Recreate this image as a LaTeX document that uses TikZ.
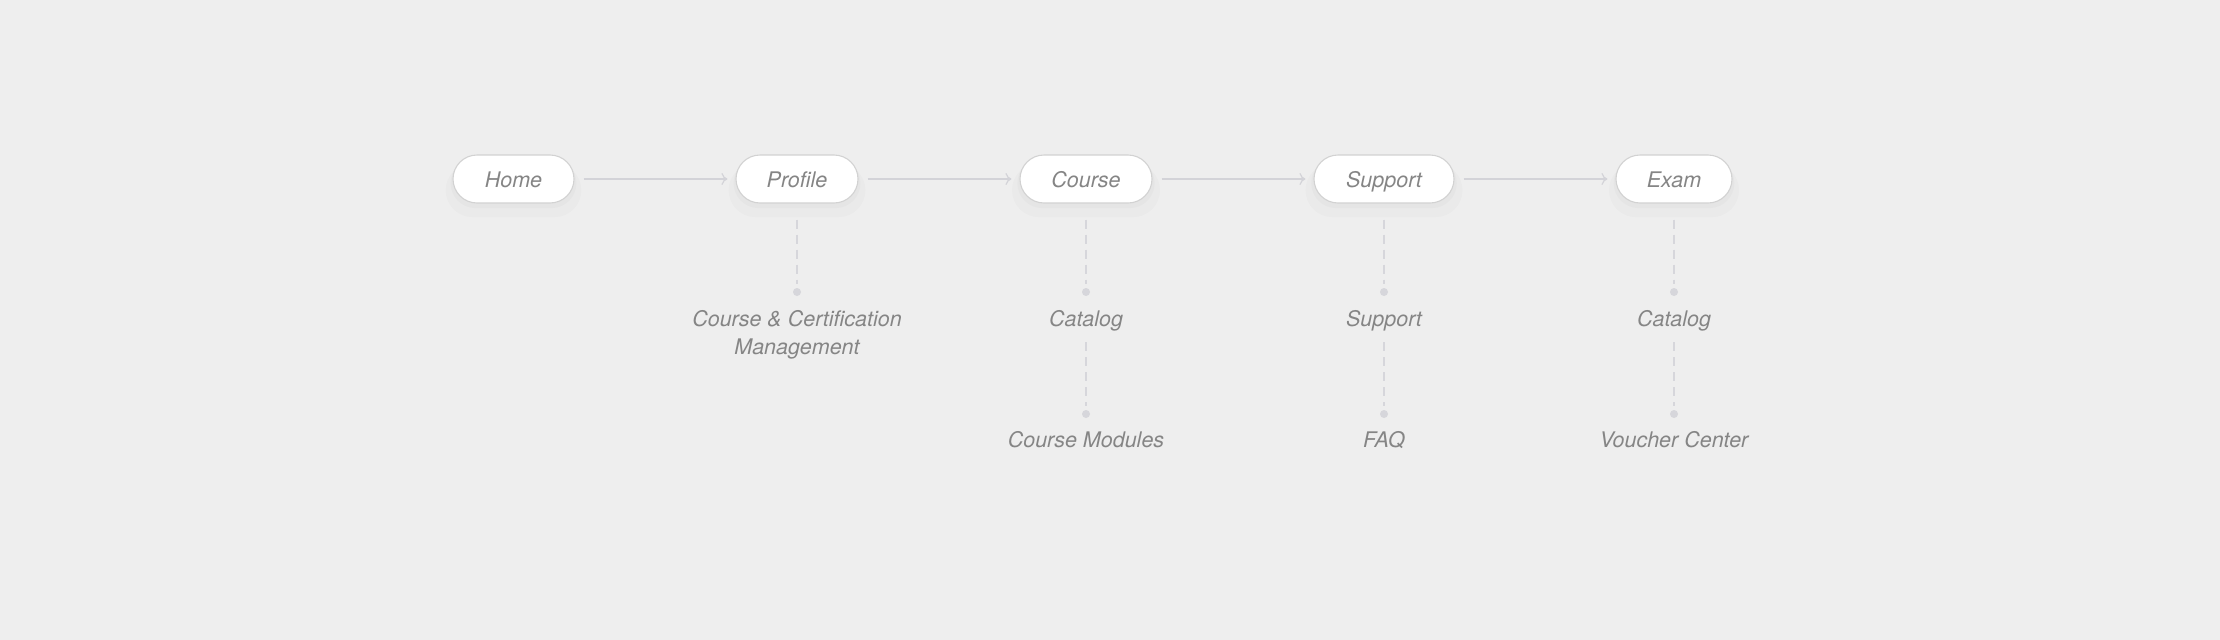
\documentclass[tikz,border=0pt]{standalone}
\usepackage{fontspec}
\setmainfont{TeX Gyre Heros}
\usetikzlibrary{arrows.meta,positioning,shadows}
\definecolor{page bg}{HTML}{EEEEEE}
\definecolor{pill border}{HTML}{D2D2D2}
\definecolor{label gray}{HTML}{858585}
\definecolor{flow gray}{HTML}{D3D3D8}
\definecolor{dash gray}{HTML}{D6D6DB}
\tikzset{
    pill/.style={draw=pill border,fill=white,line width=1.1pt,rounded corners=24pt,
        minimum height=48pt,inner xsep=0pt,text=label gray,
        text height=22pt,text depth=6pt,
        font=\fontsize{21.5}{26}\selectfont\itshape,
        drop shadow={opacity=.035,shadow xshift=0pt,shadow yshift=-10pt,shadow scale=1.12},
        drop shadow={opacity=.04,shadow xshift=0pt,shadow yshift=-4pt,shadow scale=1.04}},
    flow arr/.style={-{To[length=6pt,width=12pt]},draw=flow gray,line width=1.2pt,
        shorten <=9pt,shorten >=8pt},
    sub line/.style={draw=dash gray,line width=1.6pt,dash pattern=on 9pt off 6pt},
    sub dot/.style={circle,fill=dash gray,inner sep=0pt,minimum size=8pt},
    sub label/.style={anchor=north,inner sep=0pt,text=label gray,align=center,
        font=\fontsize{21.5}{28}\selectfont\itshape},
}

\begin{document}
\begin{tikzpicture}[x=1pt,y=-1pt]
    \fill[page bg] (0,0) rectangle (2220,640);
    \useasboundingbox (0,0) rectangle (2220,640);

    % main flow
    \node[pill,minimum width=121pt] (home)    at (513.5,179) {Home};
    \node[pill,minimum width=122pt] (profile) at (797,179)   {Profile};
    \node[pill,minimum width=132pt] (course)  at (1086,179)  {Course};
    \node[pill,minimum width=140pt] (support) at (1384,179)  {Support};
    \node[pill,minimum width=116pt] (exam)    at (1674,179)  {Exam};

    \draw[flow arr] (home) -- (profile);
    \draw[flow arr] (profile) -- (course);
    \draw[flow arr] (course) -- (support);
    \draw[flow arr] (support) -- (exam);

    % first level
    \node[sub dot] (profile dot) at (797,292) {};
    \node[sub dot] (course dot)  at (1086,292) {};
    \node[sub dot] (support dot) at (1384,292) {};
    \node[sub dot] (exam dot)    at (1674,292) {};
    \node[sub label] (profile sub) at (797,310)  {Course \& Certification\\Management};
    \node[sub label] (course sub)  at (1086,310) {Catalog};
    \node[sub label] (support sub) at (1384,310) {Support};
    \node[sub label] (exam sub)    at (1674,310) {Catalog};
    \foreach \n in {profile,course,support,exam}
        \draw[sub line,shorten <=16pt,shorten >=4pt] (\n) -- (\n\space dot);

    % second level
    \node[sub dot] (course dot2)  at (1086,414) {};
    \node[sub dot] (support dot2) at (1384,414) {};
    \node[sub dot] (exam dot2)    at (1674,414) {};
    \node[sub label] (course sub2)  at (1086,431) {Course Modules};
    \node[sub label] (support sub2) at (1384,431) {FAQ};
    \node[sub label] (exam sub2)    at (1674,431) {Voucher Center};
    \foreach \n in {course,support,exam}
        \draw[sub line,shorten <=11pt,shorten >=4pt] (\n\space sub) -- (\n\space dot2);
\end{tikzpicture}
\end{document}
